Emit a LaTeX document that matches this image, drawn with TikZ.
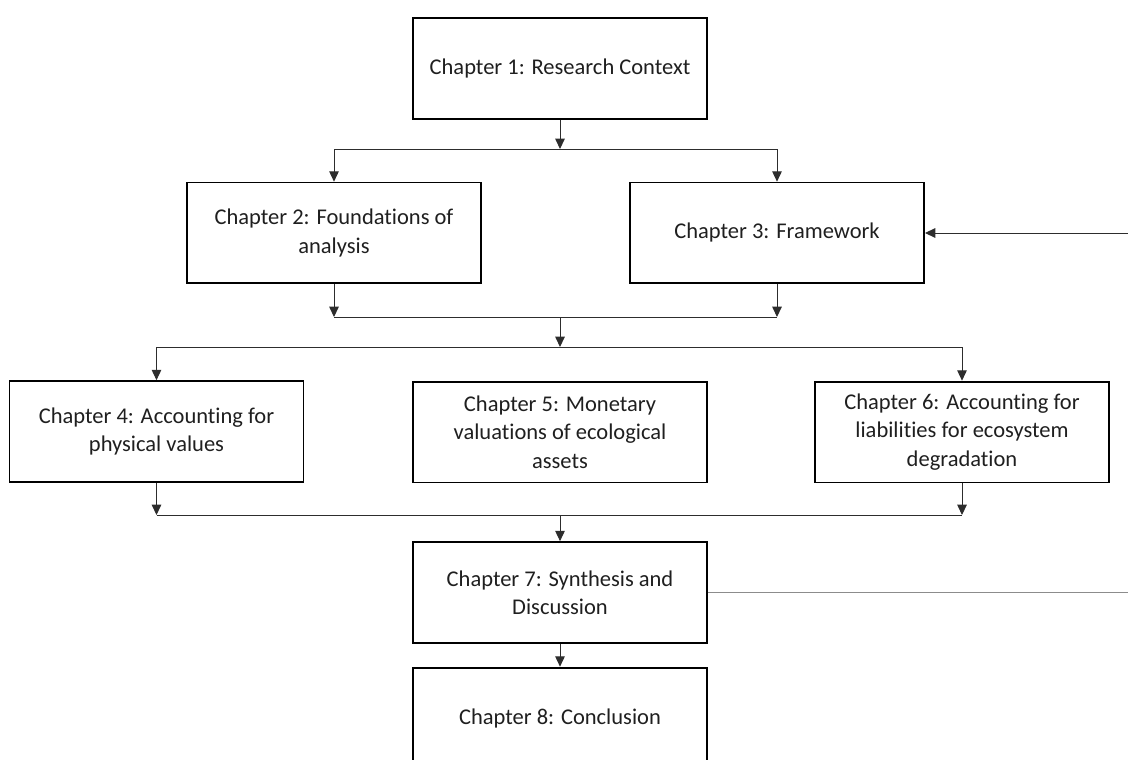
\documentclass[tikz,border=0pt]{standalone}
\usepackage{fontspec}
\setmainfont{Carlito}[Ligatures=NoCommon]
\usepackage{xcolor}
\definecolor{lineagris}{RGB}{45,45,45}
\definecolor{retornogris}{RGB}{140,140,140}
\usepackage{tikz}
\usetikzlibrary{positioning, arrows.meta}

\begin{document}
\begin{tikzpicture}[x=0.025cm, y=-0.025cm,
        chapbox/.style={draw, line width=1.3pt, minimum width=7.35cm, minimum height=2.52cm,
            align=center, font=\fontsize{16}{20.2}\selectfont, inner sep=0pt, text=black!88},
        conn/.style={draw=lineagris, line width=0.7pt, -{Triangle[length=0.26cm, width=0.24cm]}},
        plain/.style={draw=lineagris, line width=0.7pt}]
        \useasboundingbox (0,0) rectangle (1128,760);
        % Cajas de capitulos
        \node[chapbox] (ch1) at (560, 68.5) {Chapter 1: Research Context};
        \node[chapbox] (ch2) at (334, 233) {Chapter 2: Foundations of\\analysis};
        \node[chapbox] (ch3) at (777, 233) {Chapter 3: Framework};
        \node[chapbox] (ch4) at (156.5, 431.5) {Chapter 4: Accounting for\\physical values};
        \node[chapbox] (ch5) at (560, 432) {Chapter 5: Monetary\\valuations of ecological\\assets};
        \node[chapbox] (ch6) at (962, 432) {Chapter 6: Accounting for\\liabilities for ecosystem\\degradation};
        \node[chapbox] (ch7) at (560, 592.5) {Chapter 7: Synthesis and\\Discussion};
        \node[chapbox] (ch8) at (560, 718) {Chapter 8: Conclusion};

        % Puntos de union
        \coordinate (j1) at (560, 149);
        \coordinate (j2) at (560, 317);
        \coordinate (j3) at (560, 347);
        \coordinate (j4) at (560, 515);
        \coordinate (fbout) at (1128, 592.5);
        \coordinate (fbin) at (1128, 233);

        % Capitulo 1 a 2 y 3
        \draw[conn] (ch1) -- (j1);
        \draw[conn] (j1) -| (ch2);
        \draw[conn] (j1) -| (ch3);
        % Capitulos 2 y 3 juntos
        \draw[conn] (ch2.south) -- (ch2.south |- j2);
        \draw[conn] (ch3.south) -- (ch3.south |- j2);
        \draw[plain] (ch2.south |- j2) -- (ch3.south |- j2);
        \draw[conn] (j2) -- (j3);
        \draw[conn] (j3) -| (ch4);
        \draw[conn] (j3) -| (ch6);
        % Capitulos 4 y 6 hacia 7
        \draw[conn] (ch4.south) -- (ch4.south |- j4);
        \draw[conn] (ch6.south) -- (ch6.south |- j4);
        \draw[plain] (ch4.south |- j4) -- (ch6.south |- j4);
        \draw[conn] (j4) -- (ch7);
        \draw[conn] (ch7) -- (ch8);
        % Retorno al marco
        \draw[draw=retornogris, line width=1pt] (ch7.east) -- (fbout);
        \draw[conn] (fbin) -- (ch3.east);
    \end{tikzpicture}
\end{document}
